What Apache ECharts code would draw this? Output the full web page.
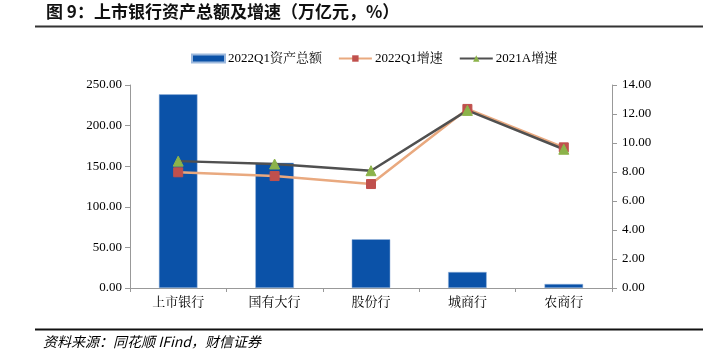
<!DOCTYPE html>
<html><head><meta charset="utf-8">
<script src="https://cdn.jsdelivr.net/npm/echarts@6/dist/echarts.min.js"></script>
<style>html,body{margin:0;padding:0;background:#fff}#c{width:710px;height:355px}</style>
</head><body><div id="c"></div>
<script>
const categories = ['上市银行','国有大行','股份行','城商行','农商行'];
const assets2022Q1 = [238.5, 154.3, 60.0, 19.8, 5.0];
const growth2022Q1 = [7.98, 7.72, 7.17, 12.35, 9.70];
const growth2021A = [8.75, 8.55, 8.09, 12.25, 9.57];
const leftTicks = [0, 50, 250];
const rightTicks = [0, 2, 14];

const serif = '"Liberation Serif","Times New Roman","Noto Serif CJK SC","Noto Sans CJK SC",serif';
const chart = echarts.init(document.getElementById('c'));
chart.setOption({
  animation:false,
  backgroundColor:'#fff',
  graphic:[
    {type:'text',left:46,top:3,style:{text:'图 9：上市银行资产总额及增速（万亿元，%）',font:'bold 17px "Noto Sans CJK SC",sans-serif',fill:'#111'}},
    {type:'line',shape:{x1:35,y1:26.5,x2:703,y2:26.5},style:{stroke:'#333',lineWidth:2}},
    {type:'line',shape:{x1:35,y1:329.5,x2:703,y2:329.5},style:{stroke:'#111',lineWidth:2}},
    {type:'text',left:43,top:335,style:{text:'资料来源：同花顺 IFind，财信证券',font:'italic 14px "Noto Sans CJK SC",sans-serif',fill:'#000'}}
  ],
  legend:{
    top:47,left:186,itemGap:16,itemWidth:33,itemHeight:8,
    textStyle:{fontFamily:serif,fontSize:13,color:'#000',padding:[0,0,0,-2]},
    data:[
      {name:'2022Q1资产总额',icon:'rect'},
      {name:'2022Q1增速'},
      {name:'2021A增速'}
    ]
  },
  grid:{left:130,right:98,top:85,bottom:67},
  xAxis:{
    type:'category',data:categories,
    axisLine:{lineStyle:{color:'#999'}},
    axisTick:{show:true,length:4,lineStyle:{color:'#999'}},
    axisLabel:{fontFamily:serif,fontSize:13,color:'#000',margin:8}
  },
  yAxis:[
    {type:'value',min:leftTicks[0],max:leftTicks[2],interval:leftTicks[1],
     axisLine:{show:true,lineStyle:{color:'#999'}},
     axisTick:{show:true,length:5,lineStyle:{color:'#999'}},
     splitLine:{show:false},
     axisLabel:{fontFamily:serif,fontSize:13,color:'#000',formatter:v=>v.toFixed(2),margin:8}},
    {type:'value',min:rightTicks[0],max:rightTicks[2],interval:rightTicks[1],
     axisLine:{show:true,lineStyle:{color:'#999'}},
     axisTick:{show:true,length:5,lineStyle:{color:'#999'}},
     splitLine:{show:false},
     axisLabel:{fontFamily:serif,fontSize:13,color:'#000',formatter:v=>v.toFixed(2),margin:10}}
  ],
  series:[
    {name:'2022Q1资产总额',type:'bar',data:assets2022Q1,barWidth:'40%',
     itemStyle:{color:'#0B52A8',borderColor:'#9DB9DD',borderWidth:0.5}},
    {name:'2022Q1增速',type:'line',yAxisIndex:1,data:growth2022Q1,
     symbol:'rect',symbolSize:9,
     lineStyle:{color:'#E9A97F',width:2.5},
     itemStyle:{color:'#C0504D',borderColor:'#C0504D'}},
    {name:'2021A增速',type:'line',yAxisIndex:1,data:growth2021A,
     symbol:'triangle',symbolSize:10,
     lineStyle:{color:'#505050',width:2.5},
     itemStyle:{color:'#8CB34A',borderColor:'#8CB34A'}}
  ]
});
</script></body></html>
